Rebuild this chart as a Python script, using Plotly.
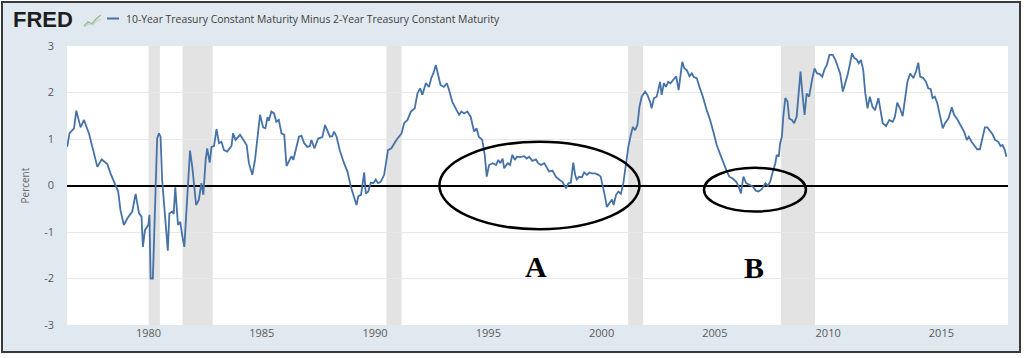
import plotly.graph_objects as go

# ---------------- data ----------------
years = [
    1976.41, 1976.51, 1976.71, 1976.81, 1977.00, 1977.15, 1977.37, 1977.59, 1977.74, 1977.93,
    1978.18, 1978.32, 1978.54, 1978.66, 1978.76, 1978.91, 1979.06, 1979.28, 1979.43, 1979.58,
    1979.69, 1979.75, 1979.84, 1979.99, 1980.04, 1980.09, 1980.19, 1980.31, 1980.38, 1980.46,
    1980.53, 1980.60, 1980.72, 1980.85, 1980.92, 1981.04, 1981.11, 1981.18, 1981.30, 1981.40,
    1981.48, 1981.58, 1981.71, 1981.83, 1981.93, 1982.10, 1982.22, 1982.33, 1982.42, 1982.52,
    1982.59, 1982.70, 1982.78, 1982.89, 1983.00, 1983.11, 1983.22, 1983.33, 1983.47, 1983.66,
    1983.73, 1983.84, 1984.04, 1984.18, 1984.33, 1984.43, 1984.58, 1984.70, 1984.92, 1985.06,
    1985.16, 1985.25, 1985.31, 1985.42, 1985.54, 1985.64, 1985.75, 1985.87, 1985.99, 1986.09,
    1986.21, 1986.31, 1986.39, 1986.53, 1986.64, 1986.75, 1986.87, 1987.01, 1987.12, 1987.19,
    1987.32, 1987.49, 1987.67, 1987.79, 1987.90, 1988.01, 1988.11, 1988.19, 1988.30, 1988.44,
    1988.63, 1988.78, 1988.93, 1989.08, 1989.18, 1989.26, 1989.38, 1989.52, 1989.59, 1989.70,
    1989.81, 1989.92, 1990.03, 1990.13, 1990.25, 1990.40, 1990.50, 1990.57, 1990.72, 1990.82,
    1990.94, 1991.17, 1991.28, 1991.43, 1991.58, 1991.75, 1991.87, 1991.99, 1992.09, 1992.24,
    1992.38, 1992.48, 1992.57, 1992.68, 1992.78, 1992.89, 1993.04, 1993.17, 1993.27, 1993.41,
    1993.56, 1993.71, 1993.81, 1993.93, 1994.07, 1994.22, 1994.37, 1994.48, 1994.58, 1994.73,
    1994.84, 1994.93, 1995.03, 1995.19, 1995.34, 1995.44, 1995.53, 1995.63, 1995.70, 1995.85,
    1995.96, 1996.06, 1996.17, 1996.26, 1996.40, 1996.58, 1996.70, 1996.80, 1996.94, 1997.10,
    1997.20, 1997.32, 1997.47, 1997.58, 1997.68, 1997.83, 1997.98, 1998.12, 1998.27, 1998.43,
    1998.53, 1998.64, 1998.75, 1998.83, 1998.90, 1999.01, 1999.13, 1999.23, 1999.35, 1999.46,
    1999.57, 1999.71, 1999.86, 1999.96, 2000.05, 2000.15, 2000.23, 2000.34, 2000.46, 2000.53,
    2000.64, 2000.74, 2000.85, 2000.96, 2001.08, 2001.18, 2001.29, 2001.38, 2001.48, 2001.58,
    2001.67, 2001.77, 2001.92, 2002.02, 2002.14, 2002.21, 2002.31, 2002.43, 2002.50, 2002.58,
    2002.65, 2002.75, 2002.84, 2002.94, 2003.04, 2003.18, 2003.29, 2003.40, 2003.47, 2003.56,
    2003.65, 2003.76, 2003.88, 2003.98, 2004.08, 2004.20, 2004.32, 2004.47, 2004.64, 2004.79,
    2004.93, 2005.08, 2005.22, 2005.38, 2005.53, 2005.64, 2005.79, 2005.94, 2006.05, 2006.15,
    2006.26, 2006.38, 2006.52, 2006.67, 2006.81, 2006.93, 2007.07, 2007.23, 2007.34, 2007.44,
    2007.56, 2007.67, 2007.73, 2007.82, 2007.88, 2007.96, 2008.02, 2008.11, 2008.21, 2008.28,
    2008.40, 2008.50, 2008.61, 2008.70, 2008.78, 2008.87, 2008.96, 2009.05, 2009.16, 2009.29,
    2009.40, 2009.51, 2009.62, 2009.74, 2009.84, 2009.94, 2010.06, 2010.20, 2010.32, 2010.43,
    2010.53, 2010.65, 2010.76, 2010.86, 2010.97, 2011.05, 2011.16, 2011.26, 2011.35, 2011.45,
    2011.55, 2011.64, 2011.74, 2011.84, 2011.96, 2012.07, 2012.22, 2012.32, 2012.41, 2012.56,
    2012.70, 2012.85, 2012.95, 2013.05, 2013.17, 2013.29, 2013.40, 2013.50, 2013.62, 2013.76,
    2013.88, 2013.98, 2014.06, 2014.20, 2014.32, 2014.42, 2014.53, 2014.61, 2014.71, 2014.82,
    2014.93, 2015.06, 2015.16, 2015.31, 2015.46, 2015.56, 2015.68, 2015.79, 2015.90, 2016.00,
    2016.12, 2016.21, 2016.33, 2016.48, 2016.58, 2016.70, 2016.81, 2016.92, 2017.03, 2017.15,
    2017.27, 2017.37, 2017.51, 2017.61, 2017.70, 2017.80, 2017.87,
]
spread = [
    0.83, 1.12, 1.23, 1.61, 1.25, 1.41, 1.12, 0.69, 0.40, 0.56,
    0.46, 0.26, 0.01, -0.13, -0.53, -0.85, -0.71, -0.56, -0.18, -0.60,
    -0.67, -1.32, -0.96, -0.85, -0.63, -2.00, -2.00, 0.12, 1.01, 1.12,
    1.05, 0.12, -0.53, -1.40, -0.60, -0.56, -0.61, -0.04, -0.85, -0.78,
    -1.06, -1.32, -0.24, 0.75, 0.40, -0.42, -0.31, 0.05, -0.20, 0.55,
    0.80, 0.49, 0.83, 0.85, 1.21, 0.91, 0.94, 0.76, 0.73, 0.85,
    1.12, 0.98, 1.09, 0.98, 0.87, 0.48, 0.23, 0.55, 1.52, 1.25,
    1.23, 1.47, 1.39, 1.59, 1.55, 1.37, 1.41, 1.12, 1.09, 0.42,
    0.55, 0.63, 0.55, 0.87, 1.05, 1.07, 0.91, 0.83, 0.85, 0.98,
    0.80, 1.01, 1.04, 1.30, 1.19, 1.05, 1.06, 1.16, 1.05, 0.76,
    0.48, 0.30, -0.02, -0.24, -0.42, -0.23, -0.20, 0.28, -0.17, -0.13,
    0.06, 0.05, 0.13, 0.05, 0.08, 0.23, 0.51, 0.76, 0.80, 0.89,
    0.98, 1.12, 1.34, 1.41, 1.59, 1.66, 1.98, 2.09, 1.95, 2.20,
    2.12, 2.31, 2.41, 2.59, 2.41, 2.16, 2.12, 2.20, 2.05, 1.80,
    1.66, 1.52, 1.59, 1.55, 1.59, 1.48, 1.16, 1.23, 1.05, 0.98,
    0.66, 0.19, 0.44, 0.48, 0.44, 0.55, 0.48, 0.58, 0.37, 0.48,
    0.44, 0.66, 0.55, 0.62, 0.61, 0.63, 0.58, 0.62, 0.53, 0.56,
    0.48, 0.44, 0.48, 0.37, 0.30, 0.32, 0.19, 0.13, 0.08, -0.06,
    0.05, 0.06, 0.49, 0.23, 0.13, 0.19, 0.18, 0.28, 0.23, 0.28,
    0.26, 0.26, 0.23, 0.19, 0.01, -0.24, -0.46, -0.38, -0.30, -0.42,
    -0.20, -0.13, -0.18, 0.05, 0.55, 0.83, 1.09, 1.26, 1.19, 1.30,
    1.69, 1.91, 2.02, 1.95, 1.80, 1.66, 1.88, 1.91, 2.05, 2.23,
    1.95, 2.20, 2.12, 2.23, 2.20, 2.28, 2.35, 2.05, 2.34, 2.66,
    2.52, 2.48, 2.35, 2.41, 2.33, 2.31, 2.12, 1.91, 1.62, 1.41,
    1.16, 0.87, 0.69, 0.48, 0.30, 0.19, 0.15, 0.08, -0.02, -0.17,
    0.19, 0.05, 0.01, -0.02, -0.11, -0.13, -0.08, 0.05, -0.01, 0.08,
    0.30, 0.48, 0.66, 0.62, 0.91, 1.05, 1.48, 1.88, 1.80, 1.44,
    1.41, 1.34, 1.48, 1.95, 2.45, 1.95, 1.52, 1.98, 1.91, 2.27,
    2.52, 2.41, 2.40, 2.34, 2.50, 2.59, 2.81, 2.81, 2.70, 2.55,
    2.41, 2.02, 2.21, 2.38, 2.63, 2.84, 2.74, 2.71, 2.63, 2.70,
    2.48, 1.98, 1.66, 1.91, 1.69, 1.62, 1.88, 1.62, 1.34, 1.28,
    1.41, 1.37, 1.48, 1.78, 1.66, 1.49, 1.95, 2.23, 2.41, 2.31,
    2.45, 2.64, 2.34, 2.31, 2.23, 2.09, 2.07, 1.88, 1.91, 1.77,
    1.52, 1.23, 1.34, 1.44, 1.68, 1.52, 1.44, 1.34, 1.23, 1.16,
    0.98, 1.05, 0.94, 0.85, 0.78, 0.78, 1.01, 1.25, 1.25, 1.16,
    1.09, 0.98, 0.94, 0.85, 0.87, 0.76, 0.62,
]

# recession periods (shaded)
rec_start = [1980.00, 1981.50, 1990.50, 2001.17, 2007.92]
rec_end = [1980.50, 1982.83, 1991.17, 2001.83, 2009.42]

tick_years = [1980, 1985, 1990, 1995, 2000, 2005, 2010, 2015]
tick_year_labels = [str(y) for y in tick_years]
y_ticks = [-3, -2, -1, 0, 1, 2, 3]
y_tick_labels = ["-3", "-2", "-1", "0", "1", "2", "3"]

series_name = "10-Year Treasury Constant Maturity Minus 2-Year Treasury Constant Maturity"
brand = "FRED"
y_title = "Percent"
marks = ["A", "B"]

# ---------------- layout geometry ----------------
W, H = 1024, 358
ML, MR, MT, MB = 67, 16, 46, 33
PW, PH = W - ML - MR, H - MT - MB


def px(x):
    return (x - ML) / PW


def py(y):
    return (H - MB - y) / PH


LINE_BLUE = "#4572a7"
BG = "#e1e9f0"
GRAY_TXT = "#595959"

fig = go.Figure()
fig.add_trace(go.Scatter(
    x=years, y=spread, mode="lines",
    line=dict(color=LINE_BLUE, width=1.8),
    name=series_name, showlegend=False, hoverinfo="x+y",
))

shapes = []
# outer frame (blue-grey with dark border)
shapes.append(dict(type="rect", xref="paper", yref="paper",
                   x0=px(2), x1=px(1020), y0=py(352), y1=py(2),
                   fillcolor=BG, line=dict(color="#3a3a3a", width=2), layer="below"))
# white plotting area
shapes.append(dict(type="rect", xref="paper", yref="paper",
                   x0=0, x1=1, y0=0, y1=1,
                   fillcolor="white", line=dict(width=0), layer="below"))
# recession bars
for s, e in zip(rec_start, rec_end):
    shapes.append(dict(type="rect", xref="x", yref="paper", x0=s, x1=e, y0=0, y1=1,
                       fillcolor="#e3e3e3", line=dict(width=0), layer="below"))
# ellipses A and B
shapes.append(dict(type="circle", xref="x", yref="y",
                   x0=1992.84, x1=2001.67, y0=-0.94, y1=0.94,
                   line=dict(color="black", width=2.5)))
shapes.append(dict(type="circle", xref="x", yref="y",
                   x0=2004.52, x1=2009.02, y0=-0.56, y1=0.38,
                   line=dict(color="black", width=2.5)))
# legend line sample
shapes.append(dict(type="line", xref="paper", yref="paper",
                   x0=px(107), x1=px(119), y0=py(18.5), y1=py(18.5),
                   line=dict(color=LINE_BLUE, width=2)))
# small chart icon next to FRED logo
icon_pts = [(84, 26), (88, 22), (92, 24), (96, 19), (101, 15)]
path = "M " + " L ".join(f"{px(a):.5f},{py(b):.5f}" for a, b in icon_pts)
shapes.append(dict(type="path", xref="paper", yref="paper", path=path,
                   line=dict(color="#9cbf8a", width=1.5)))
icon_pts2 = [(84, 27), (89, 24), (93, 25), (97, 21), (101, 19)]
path2 = "M " + " L ".join(f"{px(a):.5f},{py(b):.5f}" for a, b in icon_pts2)
shapes.append(dict(type="path", xref="paper", yref="paper", path=path2,
                   line=dict(color="#c9d3cf", width=1.2)))

annotations = [
    dict(text="<b>" + brand + "</b>", xref="paper", yref="paper", x=px(11), y=py(19),
         xanchor="left", yanchor="middle", showarrow=False,
         font=dict(family="Liberation Sans", size=22, color="#1e1e1e")),
    dict(text=series_name, xref="paper", yref="paper", x=px(124), y=py(18.5),
         xanchor="left", yanchor="middle", showarrow=False,
         font=dict(family="Open Sans", size=10.4, color="#3d3d3d")),
    dict(text=y_title, xref="paper", yref="paper", x=px(24), y=0.5, textangle=-90,
         xanchor="center", yanchor="middle", showarrow=False,
         font=dict(family="Open Sans", size=10, color="#666666")),
    dict(text="<b>" + marks[0] + "</b>", xref="x", yref="y", x=1997.11, y=-1.75,
         xanchor="center", yanchor="middle", showarrow=False,
         font=dict(family="Liberation Serif", size=30, color="black")),
    dict(text="<b>" + marks[1] + "</b>", xref="x", yref="y", x=2006.73, y=-1.76,
         xanchor="center", yanchor="middle", showarrow=False,
         font=dict(family="Liberation Serif", size=30, color="black")),
]

fig.update_layout(
    width=W, height=H,
    margin=dict(l=ML, r=MR, t=MT, b=MB, pad=0),
    paper_bgcolor="white", plot_bgcolor="white",
    shapes=shapes, annotations=annotations,
    showlegend=False,
    xaxis=dict(range=[1976.40, 2017.94], showgrid=False, zeroline=False,
               tickmode="array", tickvals=tick_years, ticktext=tick_year_labels,
               ticks="", showline=False,
               tickfont=dict(family="Open Sans", size=11, color=GRAY_TXT)),
    yaxis=dict(range=[-3, 3], tickmode="array", tickvals=y_ticks, ticktext=y_tick_labels,
               showgrid=True, gridcolor="#e8e8e8", gridwidth=1,
               zeroline=True, zerolinecolor="black", zerolinewidth=2,
               ticks="", showline=False, ticklabelstandoff=12,
               tickfont=dict(family="Open Sans", size=11, color=GRAY_TXT)),
)

# remove the browser's default page margin so the figure sits at (0, 0)
fig.write_html("out.html",
               config={"displayModeBar": False},
               post_script="document.body.style.margin='0';document.body.style.overflow='hidden';")
